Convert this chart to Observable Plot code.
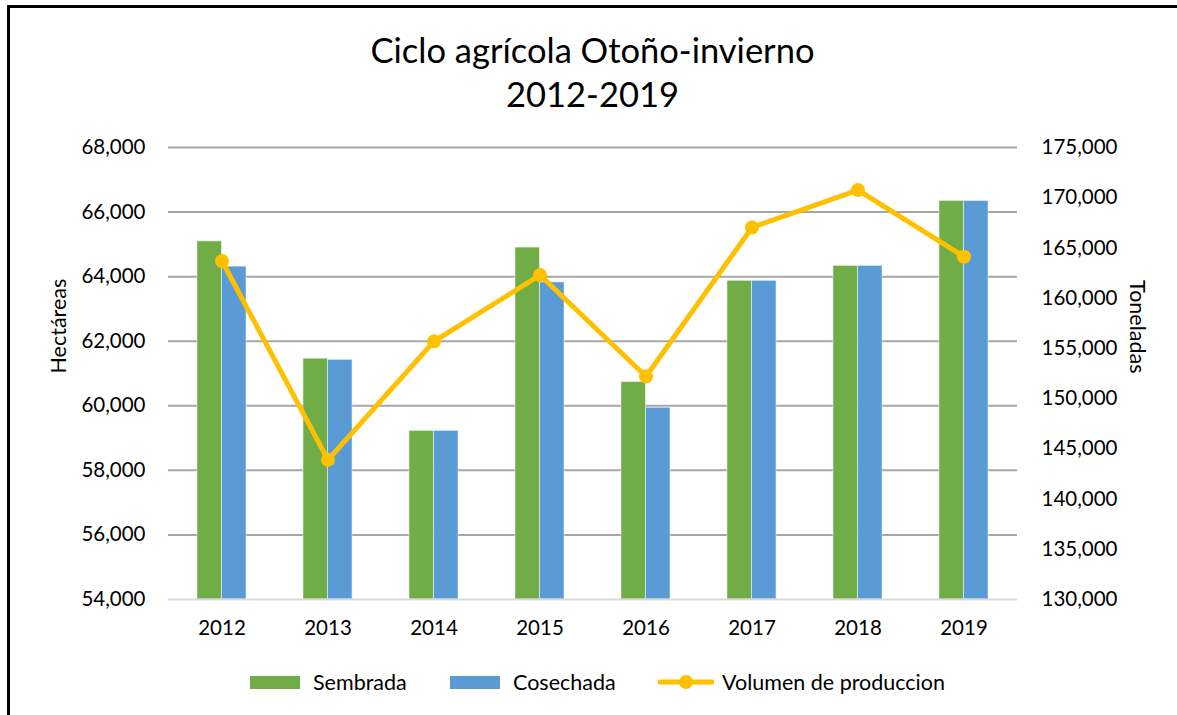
<!DOCTYPE html>
<html>
<head>
<meta charset="utf-8">
<script src="https://cdn.jsdelivr.net/npm/d3@7"></script>
<script src="https://cdn.jsdelivr.net/npm/@observablehq/plot@0.6"></script>
<style>
  html, body { margin: 0; padding: 0; background: #fff; }
  body { width: 1177px; height: 715px; overflow: hidden; position: relative; font-family: Lato, "Open Sans", sans-serif; color: #000; }
  #frame { position: absolute; left: 7px; top: 5px; width: 1300px; height: 800px; border-left: 3px solid #000; border-top: 3px solid #000; }
  #title { position: absolute; left: 0; top: 0; width: 1177px; padding-top: 28px; text-align: center; font-size: 34.5px; line-height: 44px; }
  #title div { transform: translateX(4px); }
  #chart { position: absolute; left: 0; top: 125px; }
  #legend { position: absolute; top: 670px; left: 0; height: 24px; width: 1177px; font-size: 21.5px; }
  .item { position: absolute; top: 0; height: 24px; line-height: 24px; white-space: nowrap; }
  .sw { position: absolute; top: 6px; width: 50px; height: 13px; }
</style>
</head>
<body>
<div id="frame"></div>
<div id="title"><div>Ciclo agrícola Otoño-invierno</div><div>2012-2019</div></div>
<div id="chart"></div>
<div id="legend"></div>
<script>
const years = ["2012", "2013", "2014", "2015", "2016", "2017", "2018", "2019"];
const sembrada = [65090, 61460, 59220, 64900, 60730, 63870, 64330, 66340];
const cosechada = [64310, 61420, 59220, 63820, 59940, 63870, 64330, 66340];
const volumen = [163700, 143900, 155700, 162300, 152200, 167040, 170760, 164130];
const leftTicks = [54000, 56000, 58000, 60000, 62000, 64000, 66000, 68000];
const rightTicks = [130000, 135000, 140000, 145000, 150000, 155000, 160000, 165000, 170000, 175000];
const seriesNames = ["Sembrada", "Cosechada", "Volumen de produccion"];
const colors = ["#70ad47", "#5b9bd5", "#ffc000"];

const L0 = 54000, L1 = 68000, R0 = 130000, R1 = 175000;
const toH = t => L0 + (t - R0) * (L1 - L0) / (R1 - R0);
const toT = h => R0 + (h - L0) * (R1 - R0) / (L1 - L0);
const fmt = d3.format(",");

const rows = years.map((y, i) => ({year: y, s: sembrada[i], c: cosechada[i], v: toH(volumen[i])}));

const W = 1177, H = 520, mL = 168, mR = 160, mT = 22, mB = 46;
const pIn = 0.535;
const step = (W - mL - mR) / years.length;
const half = step * (1 - pIn) / 2;

const chart = Plot.plot({
  width: W, height: H,
  marginLeft: mL, marginRight: mR, marginTop: mT, marginBottom: mB,
  style: {fontFamily: "Lato, 'Open Sans', sans-serif", fontSize: "20px", color: "#000", background: "transparent"},
  x: {type: "band", domain: years, paddingInner: pIn, paddingOuter: pIn / 2, label: null},
  y: {domain: [L0, L1], label: null},
  marks: [
    Plot.ruleY(leftTicks.filter(d => d !== L0), {stroke: "#a6a6a6", strokeWidth: 2}),
    Plot.barY(rows, {x: "year", y1: L0, y2: "s", fill: colors[0], stroke: "#e2efda", strokeWidth: 0.6, insetRight: half}),
    Plot.barY(rows, {x: "year", y1: L0, y2: "c", fill: colors[1], stroke: "#ddebf7", strokeWidth: 0.6, insetLeft: half}),
    Plot.ruleY([L0], {stroke: "#d9d9d9", strokeWidth: 2}),
    Plot.line(rows, {x: "year", y: "v", stroke: colors[2], strokeWidth: 5, strokeLinejoin: "round", strokeLinecap: "round"}),
    Plot.dot(rows, {x: "year", y: "v", r: 7, fill: colors[2], stroke: "none"}),
    Plot.axisX({tickSize: 0, tickPadding: 21, label: null, fontSize: 20.5}),
    Plot.axisY(leftTicks, {anchor: "left", tickSize: 0, tickPadding: 23, tickFormat: fmt, label: null, fontSize: 20.5}),
    Plot.axisY(rightTicks.map(toH), {anchor: "right", tickSize: 0, tickPadding: 24, tickFormat: d => fmt(Math.round(toT(d))), label: null, fontSize: 20.5}),
    Plot.text(["Hectáreas"], {frameAnchor: "left", dx: -109, rotate: -90, fontSize: 21.5, fill: "#000"}),
    Plot.text(["Toneladas"], {frameAnchor: "right", dx: 119, rotate: 90, fontSize: 21.5, fill: "#000"})
  ]
});
document.getElementById("chart").appendChild(chart);

// legend
const legend = document.getElementById("legend");
const items = [
  {name: seriesNames[0], color: colors[0], type: "bar", sx: 250, tx: 313},
  {name: seriesNames[1], color: colors[1], type: "bar", sx: 450, tx: 513},
  {name: seriesNames[2], color: colors[2], type: "line", sx: 658, tx: 722}
];
for (const it of items) {
  if (it.type === "bar") {
    const sw = document.createElement("div");
    sw.className = "sw";
    sw.style.left = it.sx + "px";
    sw.style.background = it.color;
    legend.appendChild(sw);
  } else {
    const svg = d3.create("svg").attr("width", 56).attr("height", 24)
      .style("position", "absolute").style("left", it.sx + "px").style("top", "0px");
    svg.append("line").attr("x1", 2).attr("x2", 54).attr("y1", 12).attr("y2", 12)
      .attr("stroke", it.color).attr("stroke-width", 5).attr("stroke-linecap", "round");
    svg.append("circle").attr("cx", 28).attr("cy", 12).attr("r", 7).attr("fill", it.color);
    legend.appendChild(svg.node());
  }
  const t = document.createElement("div");
  t.className = "item";
  t.style.left = it.tx + "px";
  t.textContent = it.name;
  legend.appendChild(t);
}
</script>
</body>
</html>
